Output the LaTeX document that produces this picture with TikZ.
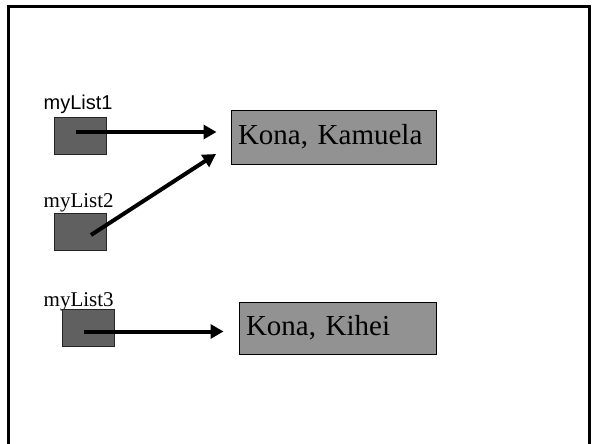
\documentclass[tikz,border=0pt]{standalone}
\usepackage{fontspec}
\setmainfont{Liberation Serif}
\newfontfamily\arialf{Liberation Sans}
\usetikzlibrary{arrows.meta}
\definecolor{ptrfill}{RGB}{96,96,96}
\definecolor{listfill}{RGB}{146,146,146}
\tikzset{
  ptrbox/.style={draw=black!85, line width=0.9pt, fill=ptrfill, minimum width=52pt, minimum height=37pt, inner sep=0pt},
  listbox/.style={draw=black, line width=0.9pt, fill=listfill, minimum height=#1, inner xsep=7pt, inner ysep=0pt, align=left, font=\fontsize{29}{31}\selectfont},
  varlabel/.style={anchor=base west, inner sep=0pt},
  ptrarrow/.style={line width=4pt, -{Triangle[length=13pt,width=14pt]}},
  frameline/.style={line width=2.8pt, black}
}
\begin{document}
\begin{tikzpicture}[x=1pt,y=-1pt]
\useasboundingbox (0,0) rectangle (592,444);
\draw[frameline] (8.8,446) -- (8.8,6.2) -- (589.6,6.2) -- (589.6,446);

% labels
\node[varlabel, font=\arialf\fontsize{20}{22}\selectfont] (lab1) at (43.5,110) {myList1};
\node[varlabel, font=\fontsize{21}{23}\selectfont] (lab2) at (43.5,207.5) {myList2};
\node[varlabel, font=\fontsize{21}{23}\selectfont] (lab3) at (43.5,306.5) {myList3};

% pointer boxes
\node[ptrbox] (ptr1) at (80,135.5) {};
\node[ptrbox] (ptr2) at (80.5,231.5) {};
\node[ptrbox] (ptr3) at (88,328) {};

% list boxes
\node[listbox=54pt, minimum width=205pt, text width=191pt] (list1) at (333.5,137) {Kona, Kamuela};
\node[listbox=52pt, minimum width=197pt, text width=183pt] (list2) at (337.5,328) {Kona, Kihei};

% arrow endpoints
\coordinate (s1) at (76,132);
\coordinate (t1) at (216.5,132);
\coordinate (s2) at (91,235);
\coordinate (t2) at (216,154);
\coordinate (s3) at (84,331.5);
\coordinate (t3) at (223.5,331.5);

\draw[ptrarrow] (s1) -- (t1);
\draw[ptrarrow] (s2) -- (t2);
\draw[ptrarrow] (s3) -- (t3);
\end{tikzpicture}
\end{document}
